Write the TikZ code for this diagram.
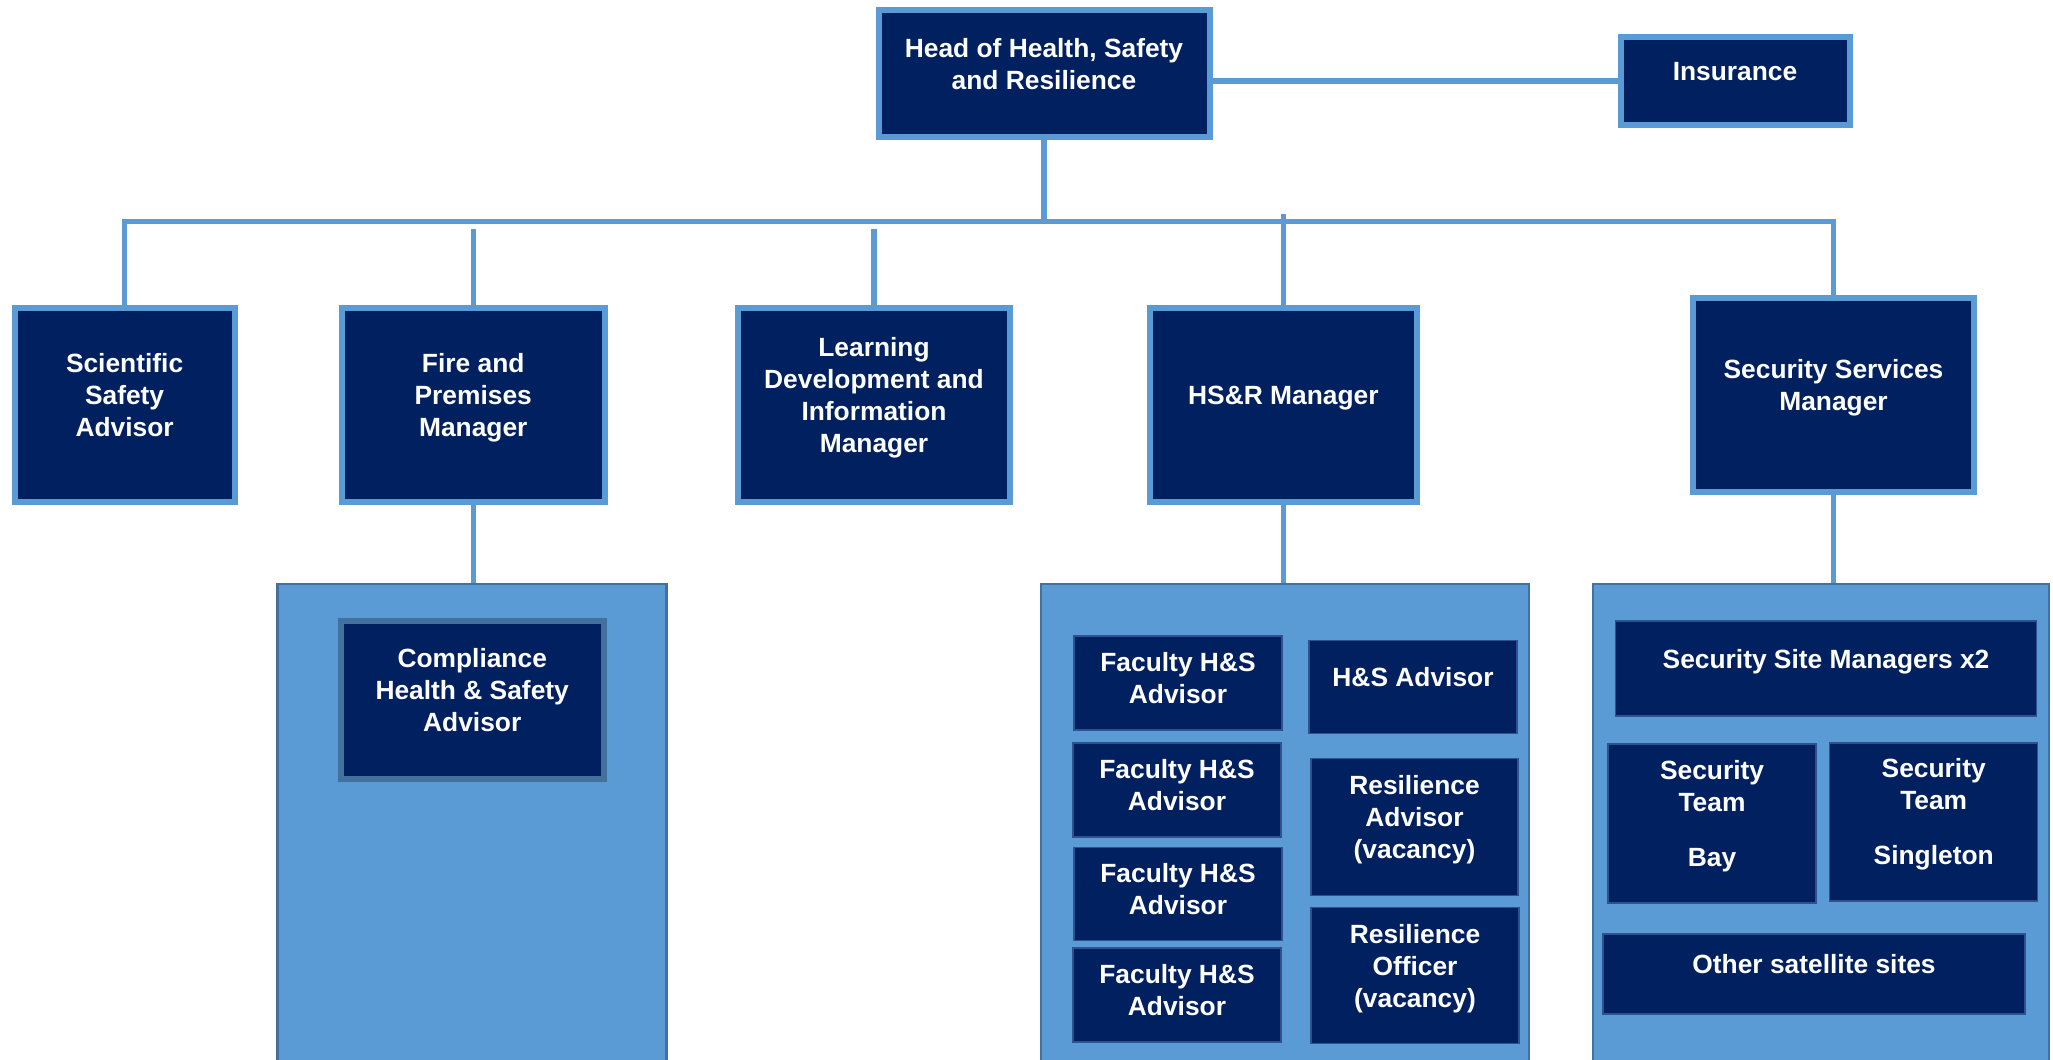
\documentclass[tikz,border=0pt]{standalone}
\usepackage{fontspec}
\setmainfont{Liberation Sans}
\definecolor{navy}{HTML}{002060}
\definecolor{midblue}{HTML}{5B9BD5}
\definecolor{edgeblue}{HTML}{41719C}
\definecolor{boxedge}{HTML}{2F528F}
\newcommand{\orgfont}{\bfseries\fontsize{7.5}{9.1}\selectfont}

\begin{document}
\begin{tikzpicture}[
  post/.style={draw=midblue,line width=0.06cm,fill=navy,text=white,align=center,inner sep=2pt,text depth=0.2cm,font=\orgfont},
  team/.style={draw=boxedge,line width=0.4pt,fill=navy,text=white,align=center,inner sep=2pt,text depth=0.2cm,font=\orgfont},
  panel/.style={draw=edgeblue,line width=0.7pt,fill=midblue,minimum height=5.16cm},
  link/.style={draw=midblue,line width=0.055cm}]
\clip (0,0) rectangle (20.53,-10.59);
\fill[white] (0,0) rectangle (20.53,-10.59);
% panels holding the teams
\node[panel,minimum width=3.89cm] (pfire) at (4.72,-8.42) {};
\node[panel,minimum width=4.88cm] (phsr) at (12.85,-8.42) {};
\node[panel,minimum width=4.56cm] (psec) at (18.21,-8.42) {};
% top of the tree
\node[post,minimum width=3.31cm,minimum height=1.27cm] (head) at (10.44,-0.735) {Head of Health, Safety\\and Resilience};
\node[post,minimum width=2.29cm,minimum height=0.88cm] (ins) at (17.35,-0.81) {Insurance};
% managers
\node[post,minimum width=2.20cm,minimum height=1.94cm] (sci) at (1.246,-4.05) {Scientific\\Safety\\Advisor};
\node[post,minimum width=2.625cm,minimum height=1.94cm] (fire) at (4.7325,-4.05) {Fire and\\Premises\\Manager};
\node[post,minimum width=2.72cm,minimum height=1.94cm] (ldi) at (8.74,-4.05) {Learning\\Development and\\Information\\Manager};
\node[post,minimum width=2.67cm,minimum height=1.94cm] (hsr) at (12.834,-4.05) {HS\&R Manager};
\node[post,minimum width=2.81cm,minimum height=1.94cm] (sec) at (18.335,-3.95) {Security Services\\Manager};
% fire and premises team
\node[post,draw=edgeblue,minimum width=2.63cm,minimum height=1.58cm] (chs) at (4.722,-7.00) {Compliance\\Health \& Safety\\Advisor};
% HS&R team
\node[team,text depth=0.1cm,minimum width=2.08cm,minimum height=0.94cm] (fac1) at (11.78,-6.83) {Faculty H\&S\\Advisor};
\node[team,text depth=0.1cm,minimum width=2.08cm,minimum height=0.94cm] (fac2) at (11.77,-7.90) {Faculty H\&S\\Advisor};
\node[team,text depth=0.1cm,minimum width=2.08cm,minimum height=0.93cm] (fac3) at (11.78,-8.94) {Faculty H\&S\\Advisor};
\node[team,text depth=0.1cm,minimum width=2.08cm,minimum height=0.94cm] (fac4) at (11.77,-9.95) {Faculty H\&S\\Advisor};
\node[team,minimum width=2.08cm,minimum height=0.93cm] (hsa) at (14.13,-6.87) {H\&S Advisor};
\node[team,minimum width=2.07cm,minimum height=1.37cm] (resadv) at (14.145,-8.27) {Resilience\\Advisor\\(vacancy)};
\node[team,minimum width=2.08cm,minimum height=1.36cm] (resoff) at (14.15,-9.757) {Resilience\\Officer\\(vacancy)};
% security team
\node[team,minimum width=4.21cm,minimum height=0.95cm] (site) at (18.26,-6.685) {Security Site Managers x2};
\node[team,minimum width=2.08cm,minimum height=1.59cm] (bay) at (17.12,-8.233) {Security\\Team\\[0.23cm]Bay};
\node[team,minimum width=2.08cm,minimum height=1.58cm] (sing) at (19.337,-8.219) {Security\\Team\\[0.23cm]Singleton};
\node[team,minimum width=4.22cm,minimum height=0.80cm] (other) at (18.14,-9.74) {Other satellite sites};
% connectors
\coordinate (bus) at (10.44,-2.215);
\coordinate (tapF) at (4.7325,-2.29);
\coordinate (tapL) at (8.74,-2.29);
\coordinate (tapH) at (12.834,-2.14);
\draw[link] (ins.west) -- (ins.west -| head.east);
\draw[link] (head.south) -- (bus);
\draw[link] (sci.north) |- (bus) -| (sec.north);
\draw[link] (tapF) -- (tapF |- fire.north);
\draw[link] (tapL) -- (tapL |- ldi.north);
\draw[link] (tapH) -- (tapH |- hsr.north);
\draw[link] (fire.south) -- (fire.south |- pfire.north);
\draw[link] (hsr.south) -- (hsr.south |- phsr.north);
\draw[link] (sec.south) -- (sec.south |- psec.north);
\end{tikzpicture}
\end{document}
